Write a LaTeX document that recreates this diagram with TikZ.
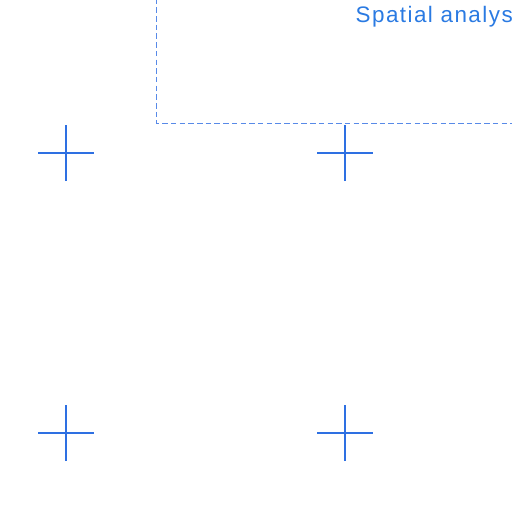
\documentclass[tikz,border=0pt]{standalone}
\usepackage{fontspec}
\setmainfont{Liberation Sans}
\newfontfamily\lblfont[LetterSpace=6.5]{Liberation Sans}
\definecolor{plusblue}{RGB}{46,112,226}
\definecolor{textblue}{RGB}{42,122,226}
\definecolor{dashblue}{RGB}{88,138,232}
\begin{document}
\begin{tikzpicture}[x=1bp,y=1bp,
  cross/.style={draw=plusblue,line width=2.4bp},
  region/.style={draw=dashblue,line width=1.2bp,dash pattern=on 5.5bp off 3.2bp},
  lbl/.style={text=textblue,font=\lblfont\fontsize{22.5}{26}\selectfont,inner sep=0pt,anchor=base west}]
\useasboundingbox (0,0) rectangle (512,-512);
\clip (0,0) rectangle (512,-512);
\draw[region] (156.5,10) -- (156.5,-123.5) -- (530,-123.5);
\node[lbl] (title) at (355.5,-22.5) {Spatial analysis};
\coordinate (p1) at (66,-153);
\coordinate (p2) at (345,-153);
\coordinate (p3) at (66,-433);
\coordinate (p4) at (345,-433);
\foreach \p in {p1,p2,p3,p4}{
  \draw[cross] ([xshift=-28bp]\p) -- ([xshift=28bp]\p);
  \draw[cross] ([yshift=-28bp]\p) -- ([yshift=28bp]\p);
}
\end{tikzpicture}
\end{document}
